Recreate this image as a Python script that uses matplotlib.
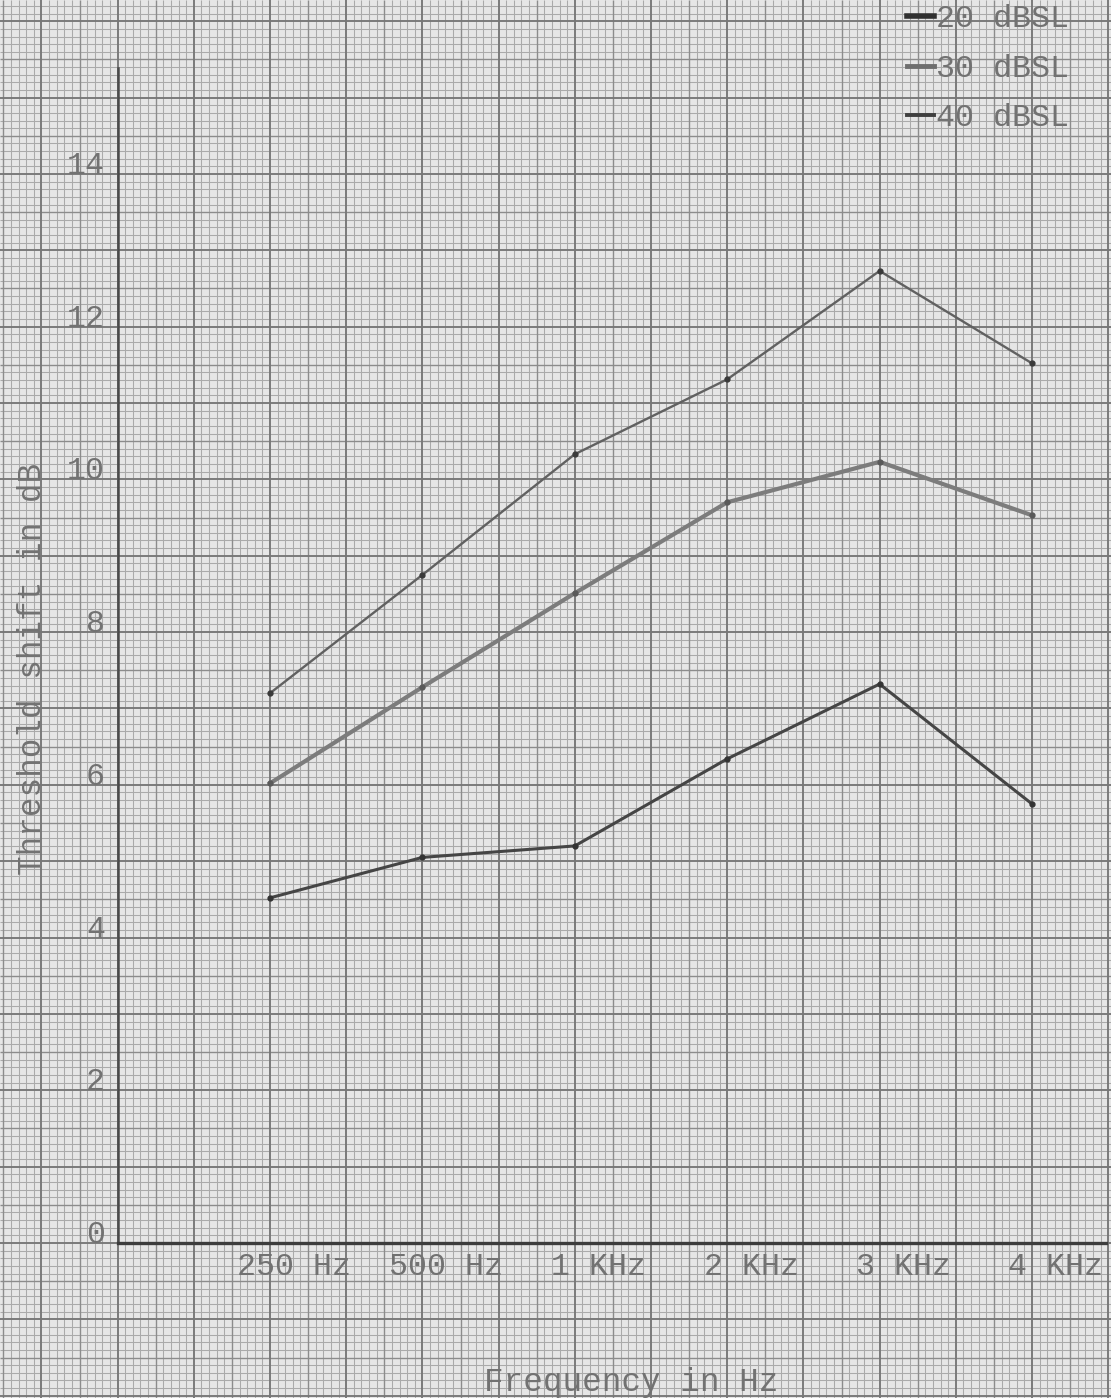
import numpy as np
import matplotlib
matplotlib.use("Agg")
import matplotlib.pyplot as plt
from matplotlib.lines import Line2D

# ---- data ----
categories = ["250 Hz", "500 Hz", "1 KHz", "2 KHz", "3 KHz", "4 KHz"]
sl_20 = [4.52, 5.05, 5.20, 6.34, 7.32, 5.75]
sl_30 = [6.02, 7.28, 8.51, 9.70, 10.23, 9.53]
sl_40 = [7.20, 8.75, 10.33, 11.31, 12.73, 11.52]
series_labels = ["20 dBSL", "30 dBSL", "40 dBSL"]
y_ticks = [0, 2, 4, 6, 8, 10, 12, 14]

W, H = 1111, 1398
fig = plt.figure(figsize=(W / 100, H / 100), dpi=100)

# pixel geometry of the scanned sheet
x0_px, cat_px = 270.0, 152.4     # x of first category, px per category
y0_px, db_px = 1243.0, 76.36     # y of 0 dB, px per dB

def px_to_x(p):
    return (p - x0_px) / cat_px

def px_to_y(p):
    return (y0_px - p) / db_px

FONT = ["Liberation Mono", "DejaVu Sans Mono"]
TXT = "#727272"
FS = 22.8

# ---- graph paper background ----
bg = fig.add_axes([0, 0, 1, 1])
bg.set_xlim(px_to_x(0), px_to_x(W))
bg.set_ylim(px_to_y(H), px_to_y(0))
bg.set_facecolor("#e6e6e6")
bg.axis("off")
fig.patch.set_facecolor("#e6e6e6")

xa, xb = px_to_x(0), px_to_x(W)
ya, yb = px_to_y(H), px_to_y(0)
xs = np.arange(np.floor(xa / 0.05) * 0.05, xb + 0.05, 0.05)
ys = np.arange(np.floor(ya / 0.1) * 0.1, yb + 0.1, 0.1)

def kind(v, step):
    r = round(v / step)
    if r % 10 == 0:
        return 2
    if r % 5 == 0:
        return 1
    return 0

styles = {0: ("#aaaaaa", 0.75), 1: ("#8c8c8c", 1.0), 2: ("#777777", 1.35)}
for k in (0, 1, 2):
    c, lw = styles[k]
    vx = [v for v in xs if kind(v, 0.05) == k]
    vy = [v for v in ys if kind(v, 0.1) == k]
    bg.vlines(vx, ya, yb, colors=c, linewidth=lw, zorder=k)
    bg.hlines(vy, xa, xb, colors=c, linewidth=lw, zorder=k)

# ---- main axes ----
left_px, right_px, top_px = 118.0, 1106.0, 68.0
ax = fig.add_axes([left_px / W, (H - y0_px) / H, (right_px - left_px) / W, (y0_px - top_px) / H])
ax.set_xlim(px_to_x(left_px), px_to_x(right_px))
ax.set_ylim(0, px_to_y(top_px))
ax.patch.set_visible(False)
for s in ("top", "right"):
    ax.spines[s].set_visible(False)
ax.spines["left"].set_color("#4a4a4a")
ax.spines["left"].set_linewidth(1.8)
ax.spines["bottom"].set_color("#3c3c3c")
ax.spines["bottom"].set_linewidth(2.4)
ax.set_xticks([])
ax.set_yticks([])

x = np.arange(len(categories))
ax.plot(x, sl_20, color="#454545", lw=2.2, marker="o", ms=3.5,
        mfc="#333333", mec="#333333", label=series_labels[0], clip_on=False)
ax.plot(x, sl_30, color="#7c7c7c", lw=3.0, marker="o", ms=3.5,
        mfc="#5a5a5a", mec="#5a5a5a", label=series_labels[1], clip_on=False)
ax.plot(x, sl_40, color="#616161", lw=1.7, marker="o", ms=3.5,
        mfc="#3a3a3a", mec="#3a3a3a", label=series_labels[2], clip_on=False)

# y tick labels (hand-lettered, slightly above each ruling)
for v in y_ticks:
    ax.annotate(str(v), xy=(0, v), xycoords=("axes fraction", "data"),
                xytext=(-13, 8), textcoords="offset pixels",
                ha="right", va="center", fontsize=FS, color=TXT, family=FONT)

# x tick labels
for i, lab in enumerate(categories):
    ax.annotate(lab, xy=(i, 0), xycoords=("data", "axes fraction"),
                xytext=(24, -24), textcoords="offset pixels",
                ha="center", va="center", fontsize=FS, color=TXT, family=FONT)

fig.text(631 / W, 1 - 1383 / H, "Frequency in Hz", ha="center", va="center",
         fontsize=23.5, color=TXT, family=FONT)
fig.text(33 / W, 1 - 669 / H, "Threshold shift in dB", ha="center", va="center",
         rotation=90, fontsize=23.5, color=TXT, family=FONT)

# legend
h20 = Line2D([], [], color="#303030", lw=4.0)
h30 = Line2D([], [], color="#6e6e6e", lw=3.5)
h40 = Line2D([], [], color="#404040", lw=2.8)
leg = fig.legend([h20, h30, h40], series_labels, loc="upper left",
                 bbox_to_anchor=(907 / W, 1 - 4 / H), frameon=False,
                 prop={"family": FONT, "size": FS}, handlelength=0.85,
                 handletextpad=0.05, labelspacing=0.62, borderpad=0,
                 borderaxespad=0)
for t in leg.get_texts():
    t.set_color(TXT)

fig.savefig("out.png", dpi=100, facecolor=fig.get_facecolor())
